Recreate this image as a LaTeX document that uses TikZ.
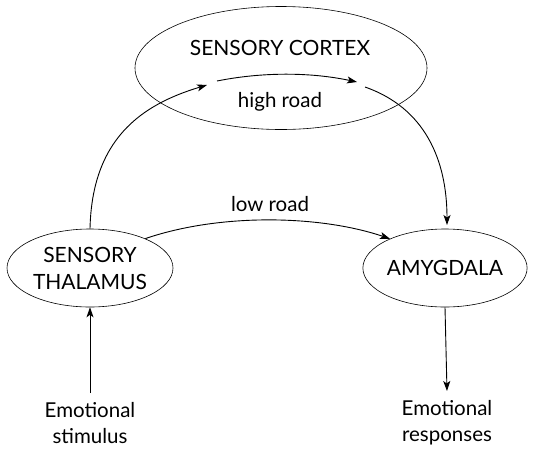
\documentclass[tikz,border=0pt]{standalone}
\usepackage{fontspec}
\setmainfont{Lato}
\usetikzlibrary{arrows.meta,shapes.geometric}
\begin{document}
\begin{tikzpicture}[x=1pt,y=-1pt,
  region/.style={draw,ellipse,line width=0.6pt,inner sep=0pt,font=\fontsize{21}{27}\selectfont,align=center},
  lbl/.style={font=\fontsize{20.5}{26}\selectfont,align=center},
  conn/.style={line width=0.9pt,-{Stealth[length=10pt,width=7pt,inset=2.5pt]}}]
\useasboundingbox (0,0) rectangle (549,448);
\node[region,minimum width=292pt,minimum height=123pt] (cortex) at (281,68) {};
\node[font=\fontsize{21}{24}\selectfont] (ctext) at (280,48) {SENSORY CORTEX};
\node[font=\fontsize{20.5}{24}\selectfont] (high) at (280,102) {high road};
\node[region,minimum width=166pt,minimum height=78pt] (thal) at (90,268) {SENSORY\\THALAMUS};
\node[region,minimum width=156pt,minimum height=78pt] (amyg) at (445,268) {AMYGDALA};
\node[lbl] (stim) at (90,423) {Emotional\\stimulus};
\node[lbl] (resp) at (447,423) {Emotional\\responses};
\node[font=\fontsize{20.5}{24}\selectfont] (low) at (270,204) {low road};
\coordinate (h1) at (207,85);
\coordinate (h2) at (217,81);
\coordinate (h3) at (357,82);
\coordinate (h4) at (365,87);
\coordinate (a1) at (447,225);
\coordinate (st) at (90,393);
\coordinate (rs) at (447,391);
\draw[conn] (thal.north) .. controls (92,140) and (140,105) .. (h1);
\draw[conn] (h2) .. controls (262,72) and (310,72) .. (h3);
\draw[conn] (h4) .. controls (425,108) and (447,160) .. (a1);
\draw[conn] (thal.28) .. controls (220,213) and (320,215) .. (amyg.152);
\draw[conn] (st) -- (thal.south);
\draw[conn] (amyg.south) -- (rs);
\end{tikzpicture}
\end{document}
